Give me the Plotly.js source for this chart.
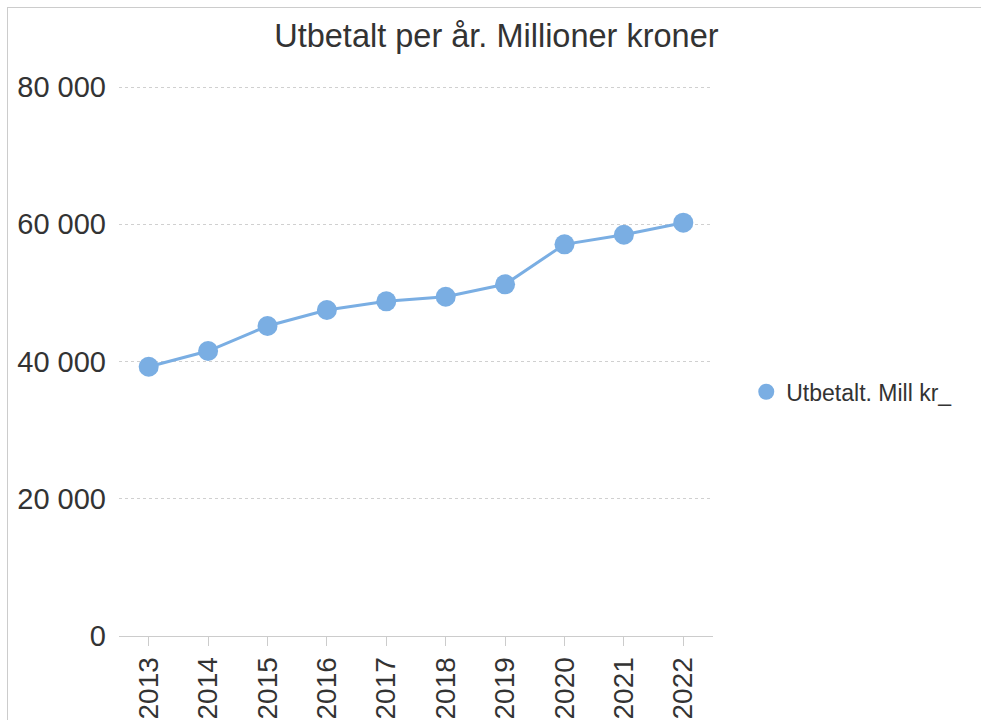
<!DOCTYPE html>
<html><head><meta charset="utf-8">
<script src="https://cdn.plot.ly/plotly-3.0.1.min.js"></script>
<style>
html,body{margin:0;padding:0;background:#fff;}
#frame{position:absolute;left:7px;top:7px;width:974px;height:713px;border-top:1px solid #ccc;border-left:1px solid #ccc;}
#chart{position:absolute;left:0;top:0;width:981px;height:720px;}
</style></head>
<body>
<div id="frame"></div>
<div id="chart"></div>
<script>
const years = ['2013','2014','2015','2016','2017','2018','2019','2020','2021','2022'];
const utbetalt = [39240, 41530, 45170, 47500, 48770, 49440, 51250, 57080, 58480, 60230];
const seriesName = 'Utbetalt. Mill kr_';
const chartTitle = 'Utbetalt per år. Millioner kroner';
const yTicks = [0, 20000, 40000, 60000, 80000];

const color = '#7aaee3';
const trace = {
  x: years, y: utbetalt, name: seriesName, type: 'scatter', mode: 'lines+markers',
  line: {color: color, width: 3},
  marker: {color: color, size: 20},
  showlegend: false
};
const legendTrace = {
  x: [years[0]], y: [null], name: seriesName, type: 'scatter', mode: 'markers',
  marker: {color: color, size: 19}, showlegend: true, hoverinfo: 'skip'
};
const layout = {
  width: 981, height: 720,
  paper_bgcolor: 'rgba(0,0,0,0)', plot_bgcolor: 'rgba(0,0,0,0)',
  separators: ', ',
  font: {family: 'Liberation Sans, Arial, sans-serif', color: '#333'},
  margin: {l: 119, r: 268, t: 86, b: 84},
  title: {text: chartTitle, font: {size: 32.5, color: '#333'}, x: 0.506, xref: 'container', xanchor: 'center', y: 0.951, yref: 'container', yanchor: 'middle'},
  xaxis: {
    type: 'category', range: [-0.5, 9.5], tickangle: -90,
    tickfont: {size: 28, color: '#333'},
    ticks: 'outside', ticklen: 9, tickcolor: '#ccc', tickwidth: 1,
    showline: true, linecolor: '#ccc', linewidth: 1,
    showgrid: false, automargin: false, fixedrange: true
  },
  yaxis: {
    range: [0, 80150], tickvals: yTicks, tickformat: ',d',
    tickfont: {size: 29, color: '#333'},
    showgrid: true, gridcolor: '#d0d0d0', griddash: 'dot', gridwidth: 1,
    zeroline: false, showline: false, ticks: '', ticklabelstandoff: 12,
    automargin: false, fixedrange: true
  },
  legend: {x: 1.056, xanchor: 'left', y: 0.444, yanchor: 'middle', font: {size: 23, color: '#333'}, bgcolor: 'rgba(0,0,0,0)', itemwidth: 30},
  showlegend: true
};
Plotly.newPlot('chart', [trace, legendTrace], layout, {displayModeBar: false, staticPlot: true});
</script>
</body></html>
